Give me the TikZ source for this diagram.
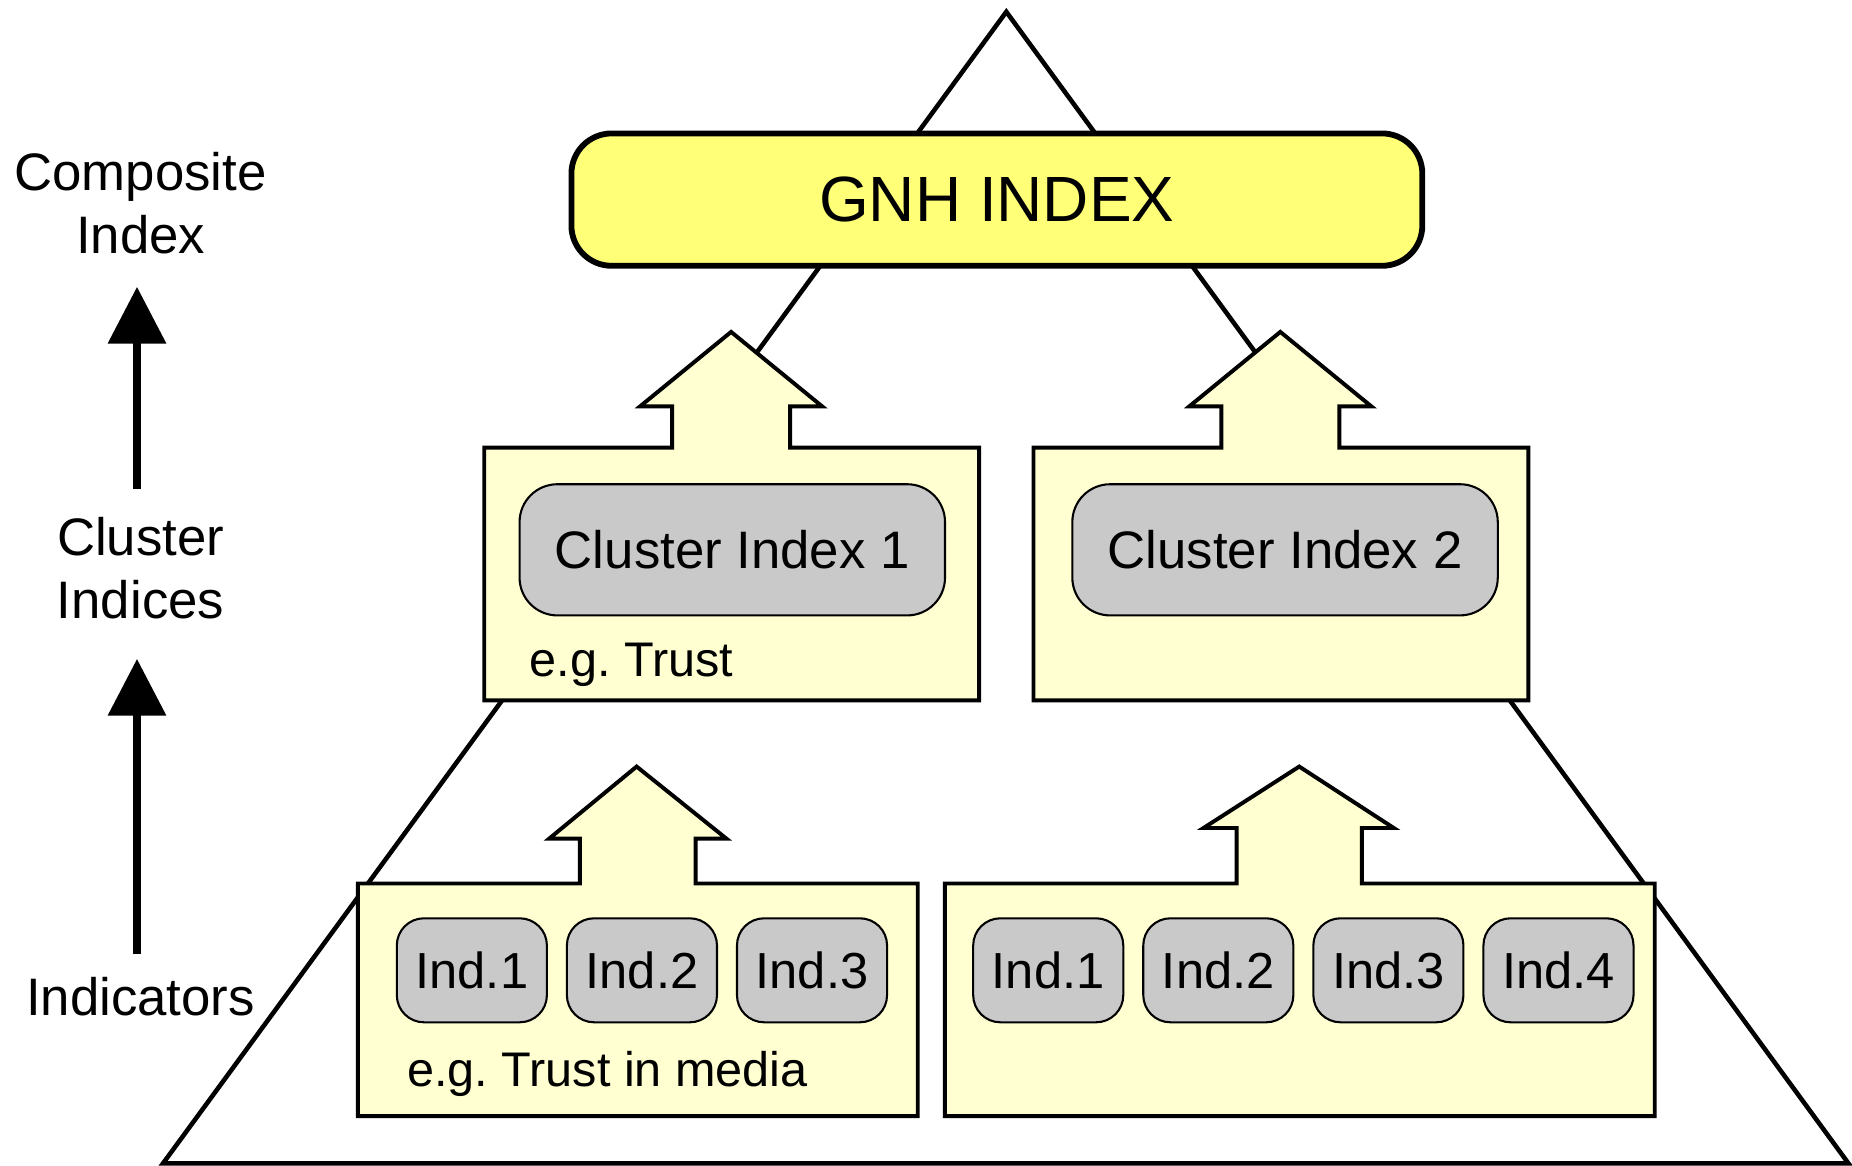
\documentclass[tikz,border=0pt]{standalone}
\usepackage{fontspec}
\setmainfont{Liberation Sans}
\usetikzlibrary{arrows.meta}
\definecolor{gnhyellow}{HTML}{FFFF78}
\definecolor{paleyellow}{HTML}{FFFFD2}
\definecolor{indgray}{HTML}{C9C9C9}
\tikzset{
  pyramid/.style={draw, line width=1.1pt},
  levelbox/.style={fill=paleyellow, draw, line width=0.95pt},
  gnhbox/.style={fill=gnhyellow, draw, line width=1.4pt, rounded corners=0.34cm, minimum width=7.2cm, minimum height=1.12cm, font=\fontsize{15.4}{18}\selectfont},
  clusterbox/.style={fill=indgray, draw, line width=0.5pt, rounded corners=0.32cm, minimum width=3.6cm, minimum height=1.11cm, font=\fontsize{12.7}{15}\selectfont},
  indbox/.style={fill=indgray, draw, line width=0.5pt, rounded corners=0.23cm, minimum width=1.27cm, minimum height=0.88cm, inner sep=0pt, font=\fontsize{12.2}{14}\selectfont},
  note/.style={anchor=base west, inner sep=0pt, font=\fontsize{11.7}{14}\selectfont\frenchspacing},
  level/.style={align=center, inner sep=0pt, font=\fontsize{12.7}{15.2}\selectfont},
  uparrow/.style={line width=1.85pt, -{Triangle[width=0.48cm,length=0.48cm]}}
}
\begin{document}
\begin{tikzpicture}[x=0.01cm, y=-0.01cm]
\useasboundingbox (0,0) rectangle (1568,987);
%\draw[help lines,step=100] (0,0) grid (1568,987);

% the pyramid behind everything
\draw[pyramid] (852,10) -- (1565,985) -- (138,985) -- cycle;

% cluster level
\draw[levelbox] (410,593) -- (410,379) -- (569,379) -- (569,344) -- (542,344) -- (619,281) -- (696,344) -- (669,344) -- (669,379) -- (829,379) -- (829,593) -- cycle;
\begin{scope}[shift={(465,0)}]
\draw[levelbox] (410,593) -- (410,379) -- (569,379) -- (569,344) -- (542,344) -- (619,281) -- (696,344) -- (669,344) -- (669,379) -- (829,379) -- (829,593) -- cycle;
\end{scope}
\node[clusterbox] (ci1) at (620,465.5) {Cluster Index 1};
\node[clusterbox] (ci2) at (1088,465.5) {Cluster Index 2};
\node[note] (trust) at (448,573) {e.g. Trust};

% indicator level
\draw[levelbox] (303,945) -- (303,748) -- (491,748) -- (491,710) -- (465,710) -- (539,649) -- (615,710) -- (589,710) -- (589,748) -- (777,748) -- (777,945) -- cycle;
\draw[levelbox] (800,945) -- (800,748) -- (1047,748) -- (1047,701) -- (1019,701) -- (1100,649) -- (1180,701) -- (1153,701) -- (1153,748) -- (1401,748) -- (1401,945) -- cycle;
\node[indbox] (ind11) at (399.5,821.5) {Ind.1};
\node[indbox] (ind12) at (543.5,821.5) {Ind.2};
\node[indbox] (ind13) at (687.5,821.5) {Ind.3};
\node[indbox] (ind21) at (887.5,821.5) {Ind.1};
\node[indbox] (ind22) at (1031.5,821.5) {Ind.2};
\node[indbox] (ind23) at (1175.5,821.5) {Ind.3};
\node[indbox] (ind24) at (1319.5,821.5) {Ind.4};
\node[note] (media) at (344,920) {e.g. Trust in media};

% composite index
\node[gnhbox] (gnh) at (844,169) {GNH INDEX};

% levels on the left
\node[level] (comp) at (119,172) {Composite\\Index};
\node[level] (clus) at (119,481) {Cluster\\Indices};
\node[level] (indic) at (119,844) {Indicators};
\draw[uparrow] ([xshift=-0.03cm,yshift=0.23cm]clus.north) -- ([xshift=-0.03cm,yshift=-0.27cm]comp.south);
\draw[uparrow] ([xshift=-0.03cm,yshift=0.19cm]indic.north) -- ([xshift=-0.03cm,yshift=-0.33cm]clus.south);
\end{tikzpicture}
\end{document}
